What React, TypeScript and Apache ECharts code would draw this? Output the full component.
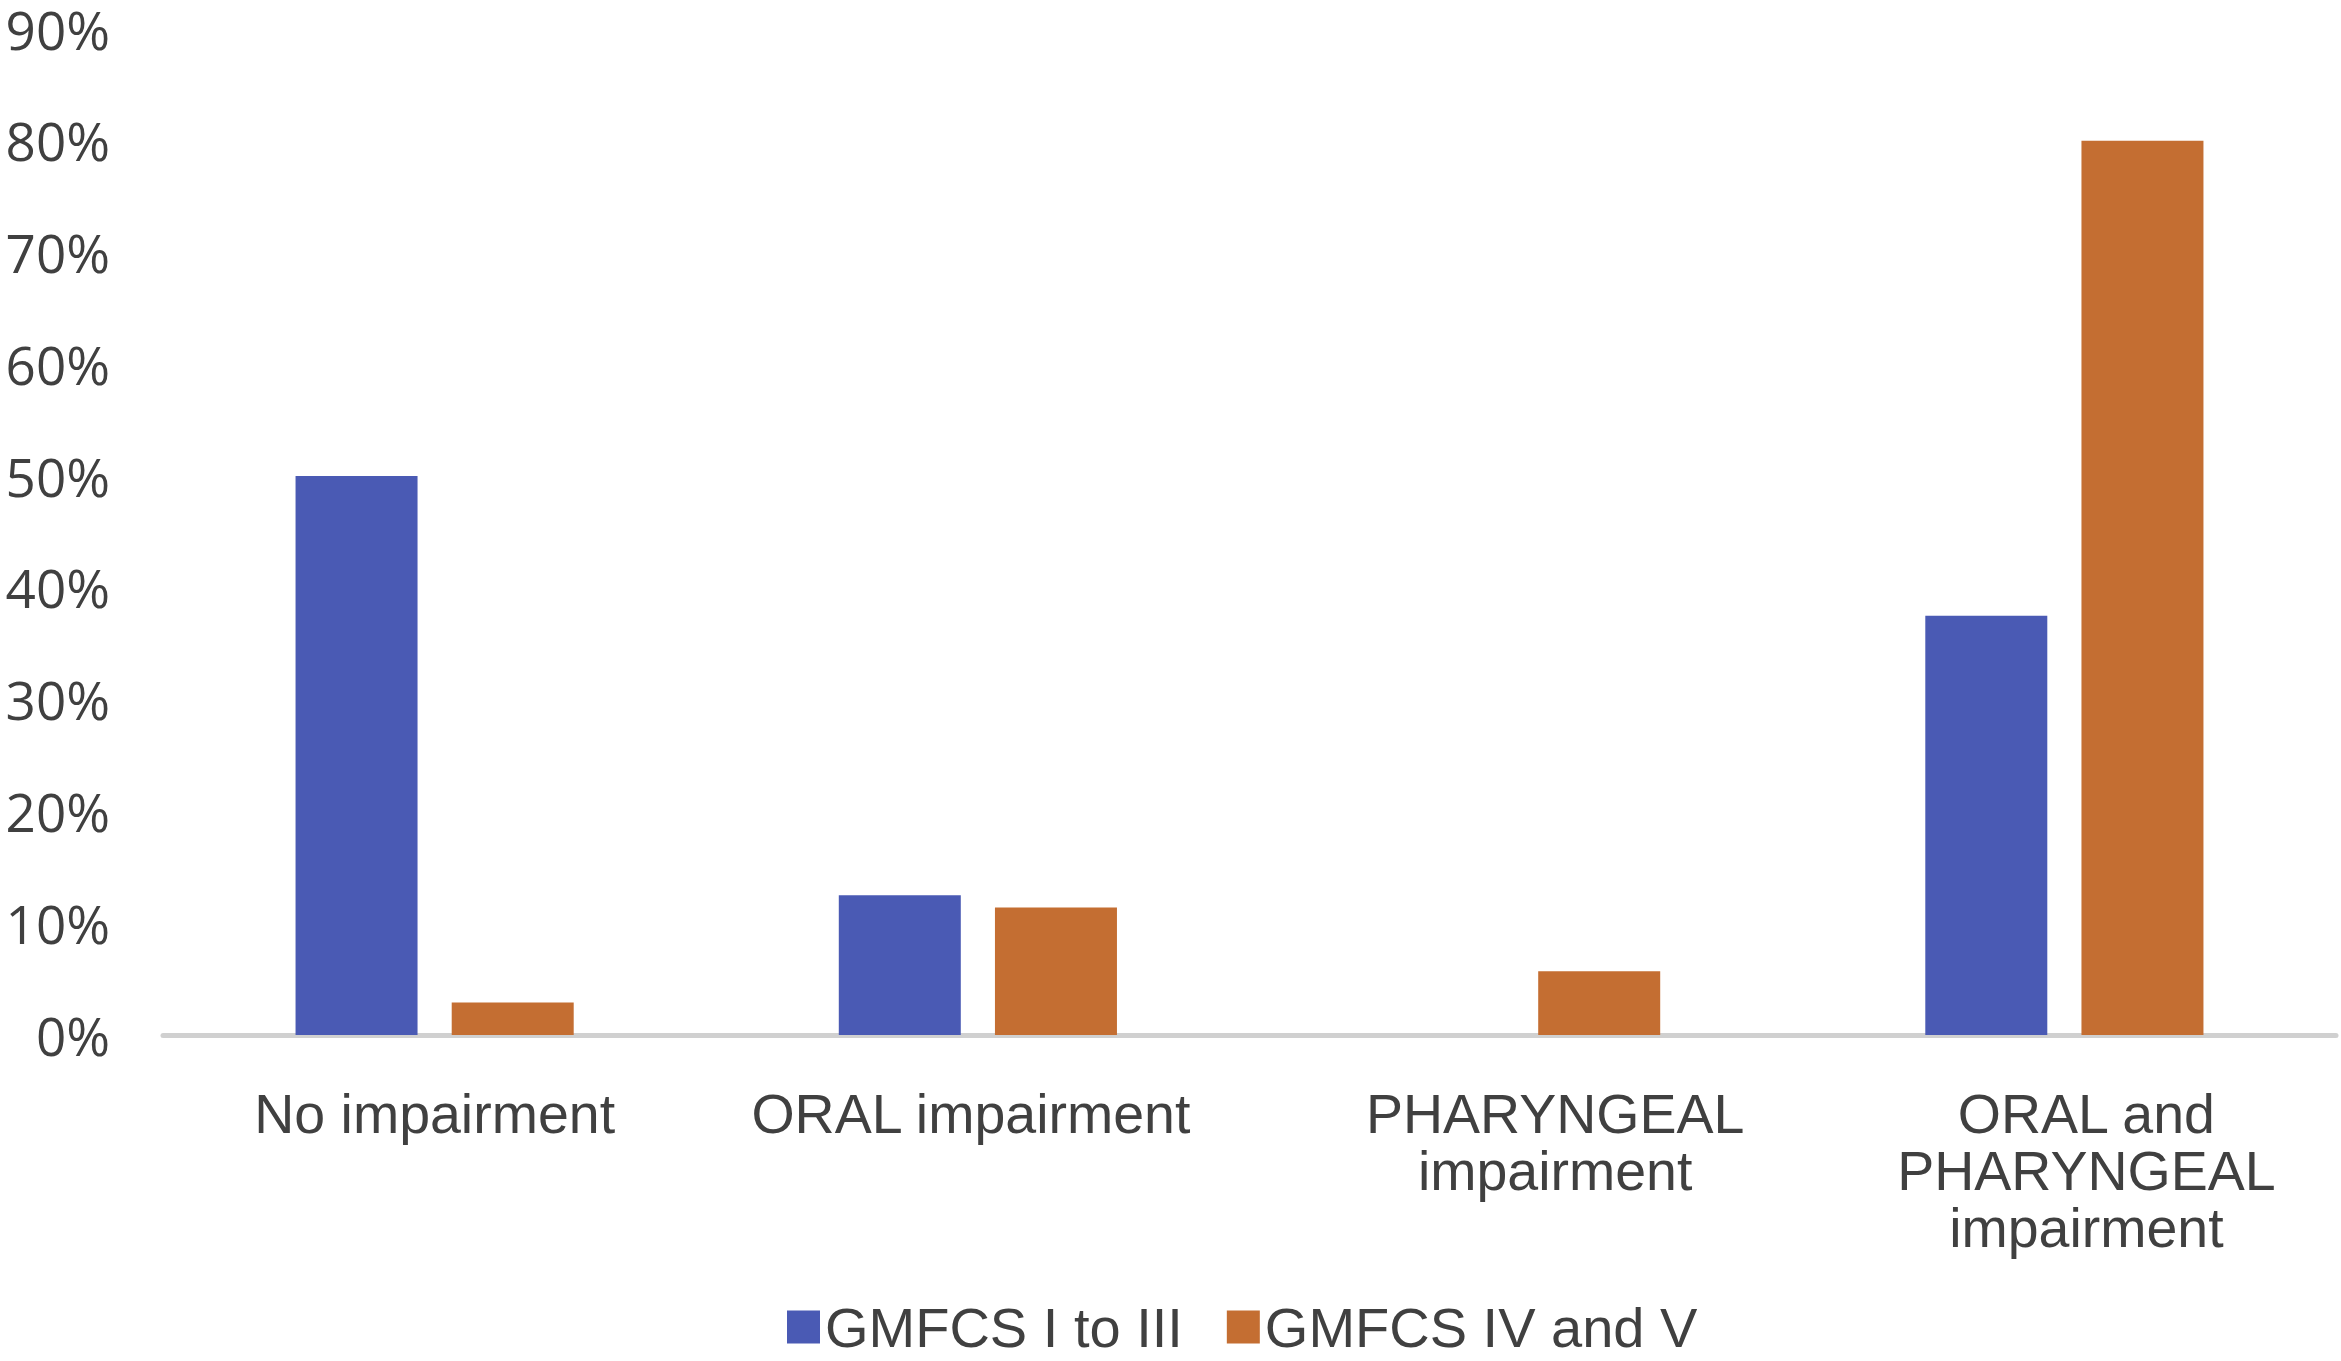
import React, { useEffect, useRef } from "react";
import * as echarts from "echarts";

const categories = [
  "No impairment",
  "ORAL impairment",
  "PHARYNGEAL\nimpairment",
  "ORAL and\nPHARYNGEAL\nimpairment",
];
const seriesNames = ["GMFCS I to III", "GMFCS IV and V"];
const gmfcs1to3 = [50, 12.5, 0, 37.5];
const gmfcs4and5 = [2.9, 11.4, 5.7, 80];
const yTicks = { min: 0, max: 90, interval: 10 };

// small per-label horizontal nudges (label style, in px of left padding)
const labelStyleKeys = ["l0", "l1", "l2", "l3"];

export default function App() {
  const ref = useRef<HTMLDivElement>(null);
  useEffect(() => {
    document.body.style.margin = "0";
    const chart = echarts.init(ref.current!, undefined, { renderer: "svg" });
    const baseText = {
      fontFamily: "'Liberation Sans', Arial, sans-serif",
      fontSize: 55.5,
      lineHeight: 57,
      color: "#404040",
    };
    chart.setOption({
      animation: false,
      backgroundColor: "#ffffff",
      grid: { left: 163, right: 5, top: 29, bottom: 326, containLabel: false },
      legend: {
        left: 782,
        bottom: 1,
        itemWidth: 33,
        itemHeight: 33,
        itemGap: 44,
        icon: "rect",
        textStyle: {
          fontFamily: "'Liberation Sans Narrow', 'Liberation Sans', Arial, sans-serif",
          fontSize: 56,
          color: "#404040",
        },
        data: seriesNames,
      },
      xAxis: {
        type: "category",
        data: categories,
        axisLine: { show: true, lineStyle: { color: "#d0d0d0", width: 5 } },
        axisTick: { show: false },
        axisLabel: {
          interval: 0,
          margin: 50,
          ...baseText,
          formatter: (value: string, idx: number) =>
            value
              .split("\n")
              .map((line) => `{${labelStyleKeys[idx]}|${line}}`)
              .join("\n"),
          rich: {
            l0: { ...baseText },
            l1: { ...baseText, padding: [0, 14, 0, 0] },
            l2: { ...baseText, padding: [0, 0, 0, 68] },
            l3: { ...baseText, padding: [0, 0, 0, 44] },
          },
        },
      },
      yAxis: {
        type: "value",
        min: yTicks.min,
        max: yTicks.max,
        interval: yTicks.interval,
        axisLine: { show: false },
        axisTick: { show: false },
        splitLine: { show: false },
        axisLabel: {
          formatter: "{value}%",
          margin: 53,
          fontFamily: "'Open Sans', sans-serif",
          fontSize: 53,
          lineHeight: 50,
          color: "#404040",
        },
      },
      series: [
        {
          name: seriesNames[0],
          type: "bar",
          data: gmfcs1to3,
          barWidth: 122,
          barGap: "28%",
          itemStyle: { color: "#4a5ab4" },
        },
        {
          name: seriesNames[1],
          type: "bar",
          data: gmfcs4and5,
          barWidth: 122,
          barGap: "28%",
          itemStyle: { color: "#c46e32" },
        },
      ],
    });
    return () => chart.dispose();
  }, []);
  return <div ref={ref} style={{ width: 2341, height: 1361 }} />;
}
